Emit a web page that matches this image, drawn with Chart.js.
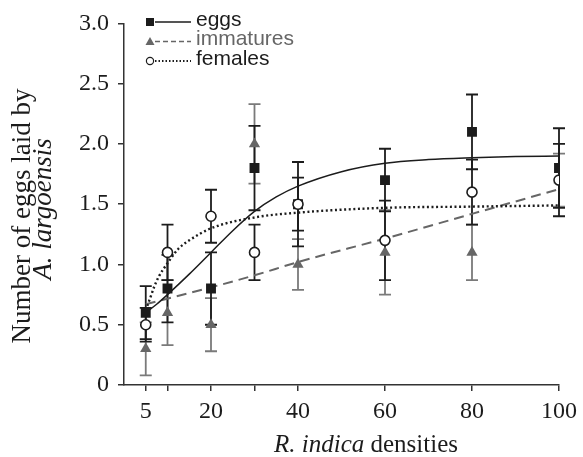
<!DOCTYPE html>
<html>
<head>
<meta charset="utf-8">
<script src="https://cdn.jsdelivr.net/npm/chart.js@4.4.1/dist/chart.umd.min.js"></script>
<style>
  html, body { margin: 0; padding: 0; background: #fff; }
  #wrap { width: 583px; height: 457px; position: relative; }
</style>
</head>
<body>
<div id="wrap"><canvas id="chart"></canvas></div>
<script>
// densities of R. indica (x positions of the measured points)
const densities = [5, 10, 20, 30, 40, 60, 80, 100];
const xTicks = [5, 10, 20, 30, 40, 60, 80, 100];
const xTickLabels = ['5', '', '20', '', '40', '60', '80', '100'];
const yTicks = [0, 0.5, 1, 1.5, 2, 2.5, 3];

// means and error bars
const eggsMean = [0.6, 0.8, 0.8, 1.8, 1.5, 1.7, 2.1, 1.8];
const eggsErr = [0.22, 0.28, 0.3, 0.35, 0.35, 0.26, 0.31, 0.33];
const immaturesMean = [0.3, 0.6, 0.5, 2.0, 1.0, 1.1, 1.1, 1.7];
const immaturesErr = [0.22, 0.27, 0.22, 0.33, 0.21, 0.35, 0.23, 0.22];
const femalesMean = [0.5, 1.1, 1.4, 1.1, 1.5, 1.2, 1.6, 1.7];
const femalesErr = [0.14, 0.23, 0.22, 0.23, 0.22, 0.33, 0.27, 0.3];

// fitted curves, sampled from the figure
const eggsFitX = [5, 7.5, 10, 15, 20, 25, 30, 35, 40, 50, 60, 70, 80, 90, 100];
const eggsFit = [0.6, 0.67, 0.75, 0.92, 1.1, 1.28, 1.44, 1.56, 1.65, 1.77, 1.84, 1.87, 1.885, 1.895, 1.9];
const immaturesFitX = [5, 20, 30, 40, 60, 80, 100];
const immaturesFit = [0.67, 0.81, 0.91, 1.02, 1.215, 1.42, 1.625];
const femalesFitX = [5, 6, 7, 8, 10, 12.5, 15, 20, 30, 40, 60, 80, 100];
const femalesFit = [0.62, 0.72, 0.82, 0.9, 1.01, 1.13, 1.2, 1.3, 1.39, 1.43, 1.47, 1.48, 1.49];

const seriesLabels = ['eggs', 'immatures', 'females'];

const BLACK = '#1c1c1c';
const GREY = '#666666';
const GREY_BAR = '#7a7a7a';

const pts = (xs, ys) => xs.map((x, i) => ({ x: x, y: ys[i] }));

const fitStyle = {
  showLine: true,
  pointRadius: 0,
  pointHoverRadius: 0,
  fill: false,
  cubicInterpolationMode: 'monotone'
};

const datasets = [
  // points (drawn on top: lower order = drawn later)
  { label: 'females', kind: 'pts', data: pts(densities, femalesMean), err: femalesErr, errColor: BLACK,
    pointStyle: 'circle', pointRadius: 5, backgroundColor: '#fff', borderColor: BLACK, borderWidth: 1.6, order: 1 },
  { label: 'eggs', kind: 'pts', data: pts(densities, eggsMean), err: eggsErr, errColor: BLACK,
    pointStyle: 'rect', pointRadius: 7, backgroundColor: BLACK, borderColor: BLACK, borderWidth: 0, order: 2 },
  { label: 'immatures', kind: 'pts', data: pts(densities, immaturesMean), err: immaturesErr, errColor: GREY_BAR,
    pointStyle: 'triangle', pointRadius: 6.5, backgroundColor: GREY, borderColor: GREY, borderWidth: 0, order: 3 },
  // fits
  Object.assign({ label: 'eggs fit', data: pts(eggsFitX, eggsFit), borderColor: BLACK, borderWidth: 1.5, order: 4 }, fitStyle),
  Object.assign({ label: 'females fit', data: pts(femalesFitX, femalesFit), borderColor: BLACK, borderWidth: 2.4,
    borderDash: [2, 2.6], order: 5 }, fitStyle),
  Object.assign({ label: 'immatures fit', data: pts(immaturesFitX, immaturesFit), borderColor: GREY, borderWidth: 2,
    borderDash: [10, 6], order: 6 }, fitStyle)
];

// vertical error bars with caps, under the markers
const errorBars = {
  id: 'errorBars',
  beforeDatasetsDraw(chart) {
    const { ctx, scales: { x, y } } = chart;
    const order = ['immatures', 'eggs', 'females'];
    ctx.save();
    order.forEach(name => {
      const ds = chart.data.datasets.find(d => d.kind === 'pts' && d.label === name);
      ctx.strokeStyle = ds.errColor;
      ctx.lineWidth = 1.8;
      ds.data.forEach((p, i) => {
        const px = x.getPixelForValue(p.x);
        const top = y.getPixelForValue(p.y + ds.err[i]);
        const bot = y.getPixelForValue(p.y - ds.err[i]);
        ctx.beginPath();
        ctx.moveTo(px, top); ctx.lineTo(px, bot);
        ctx.moveTo(px - 6, top); ctx.lineTo(px + 6, top);
        ctx.moveTo(px - 6, bot); ctx.lineTo(px + 6, bot);
        ctx.stroke();
      });
    });
    ctx.restore();
  }
};

// legend: marker + line sample + label
const customLegend = {
  id: 'customLegend',
  afterDraw(chart) {
    const { ctx } = chart;
    const styles = {
      eggs: { marker: 'rect', line: [], color: BLACK, text: BLACK, lw: 1.5 },
      immatures: { marker: 'triangle', line: [5, 3], color: GREY, text: GREY, lw: 1.5 },
      females: { marker: 'circle', line: [1.5, 2], color: BLACK, text: BLACK, lw: 1.8 }
    };
    ctx.save();
    seriesLabels.forEach((name, i) => {
      const s = styles[name];
      const cy = 22 + i * 19.5;
      const mx = 150;
      ctx.fillStyle = s.color;
      ctx.strokeStyle = s.color;
      if (s.marker === 'rect') {
        ctx.fillRect(mx - 4, cy - 4, 8, 8);
      } else if (s.marker === 'triangle') {
        ctx.beginPath();
        ctx.moveTo(mx, cy - 4.5); ctx.lineTo(mx + 4.5, cy + 3.5); ctx.lineTo(mx - 4.5, cy + 3.5);
        ctx.closePath(); ctx.fill();
      } else {
        ctx.beginPath();
        ctx.arc(mx, cy, 3.6, 0, Math.PI * 2);
        ctx.fillStyle = '#fff'; ctx.fill();
        ctx.lineWidth = 1.2; ctx.stroke();
      }
      ctx.beginPath();
      ctx.setLineDash(s.line);
      ctx.lineWidth = s.lw;
      ctx.moveTo(155, cy); ctx.lineTo(191, cy);
      ctx.stroke();
      ctx.setLineDash([]);
      ctx.fillStyle = s.text;
      ctx.font = '21px "Liberation Sans", Arial, sans-serif';
      ctx.textBaseline = 'middle';
      ctx.textAlign = 'left';
      ctx.fillText(name, 196, cy - 2);
    });
    ctx.restore();
  }
};

// axis titles with italic species names
const axisTitles = {
  id: 'axisTitles',
  afterDraw(chart) {
    const { ctx } = chart;
    const serif = '"Liberation Serif", "Times New Roman", serif';
    ctx.save();
    ctx.fillStyle = BLACK;
    ctx.textBaseline = 'middle';
    // x title
    const parts = [['italic 25px ' + serif, 'R. indica'], ['25px ' + serif, ' densities']];
    let total = 0;
    parts.forEach(p => { ctx.font = p[0]; total += ctx.measureText(p[1]).width; });
    let sx = 366 - total / 2;
    ctx.textAlign = 'left';
    parts.forEach(p => { ctx.font = p[0]; ctx.fillText(p[1], sx, 445); sx += ctx.measureText(p[1]).width; });
    // y title
    ctx.save();
    ctx.translate(23, 216);
    ctx.rotate(-Math.PI / 2);
    ctx.textAlign = 'center';
    ctx.font = '27px ' + serif;
    ctx.fillText('Number of eggs laid by', 0, 0);
    ctx.restore();
    ctx.save();
    ctx.translate(44, 209);
    ctx.rotate(-Math.PI / 2);
    ctx.textAlign = 'center';
    ctx.font = 'italic 27px ' + serif;
    ctx.fillText('A. largoensis', 0, 0);
    ctx.restore();
    ctx.restore();
  }
};

const tickFont = { family: '"Liberation Serif", "Times New Roman", serif', size: 24 };

new Chart(document.getElementById('chart'), {
  type: 'scatter',
  data: { datasets: datasets },
  options: {
    responsive: true,
    maintainAspectRatio: false,
    animation: false,
    layout: { padding: { left: 0, right: 23, top: 19, bottom: 0 } },
    plugins: {
      legend: { display: false },
      tooltip: { enabled: false },
      title: { display: false }
    },
    scales: {
      x: {
        type: 'linear',
        min: 0,
        max: 100,
        afterBuildTicks: (scale) => { scale.ticks = xTicks.map(v => ({ value: v })); },
        afterFit: (scale) => { scale.height = 72; },
        ticks: {
          color: BLACK,
          font: tickFont,
          padding: 6,
          maxRotation: 0,
          autoSkip: false,
          callback: (v) => xTickLabels[xTicks.indexOf(v)]
        },
        grid: { drawOnChartArea: false, drawTicks: true, tickLength: 6, color: '#333', lineWidth: 1.5 },
        border: { color: '#333', width: 1.5 }
      },
      y: {
        min: 0,
        max: 3,
        afterBuildTicks: (scale) => { scale.ticks = yTicks.map(v => ({ value: v })); },
        afterFit: (scale) => { scale.width = 124; },
        ticks: {
          color: BLACK,
          font: tickFont,
          padding: 9,
          callback: (v) => v === 0 ? '0' : v.toFixed(1)
        },
        grid: { drawOnChartArea: false, drawTicks: true, tickLength: 6, color: '#333', lineWidth: 1.5 },
        border: { color: '#333', width: 1.5 }
      }
    }
  },
  plugins: [errorBars, customLegend, axisTitles]
});
</script>
</body>
</html>
